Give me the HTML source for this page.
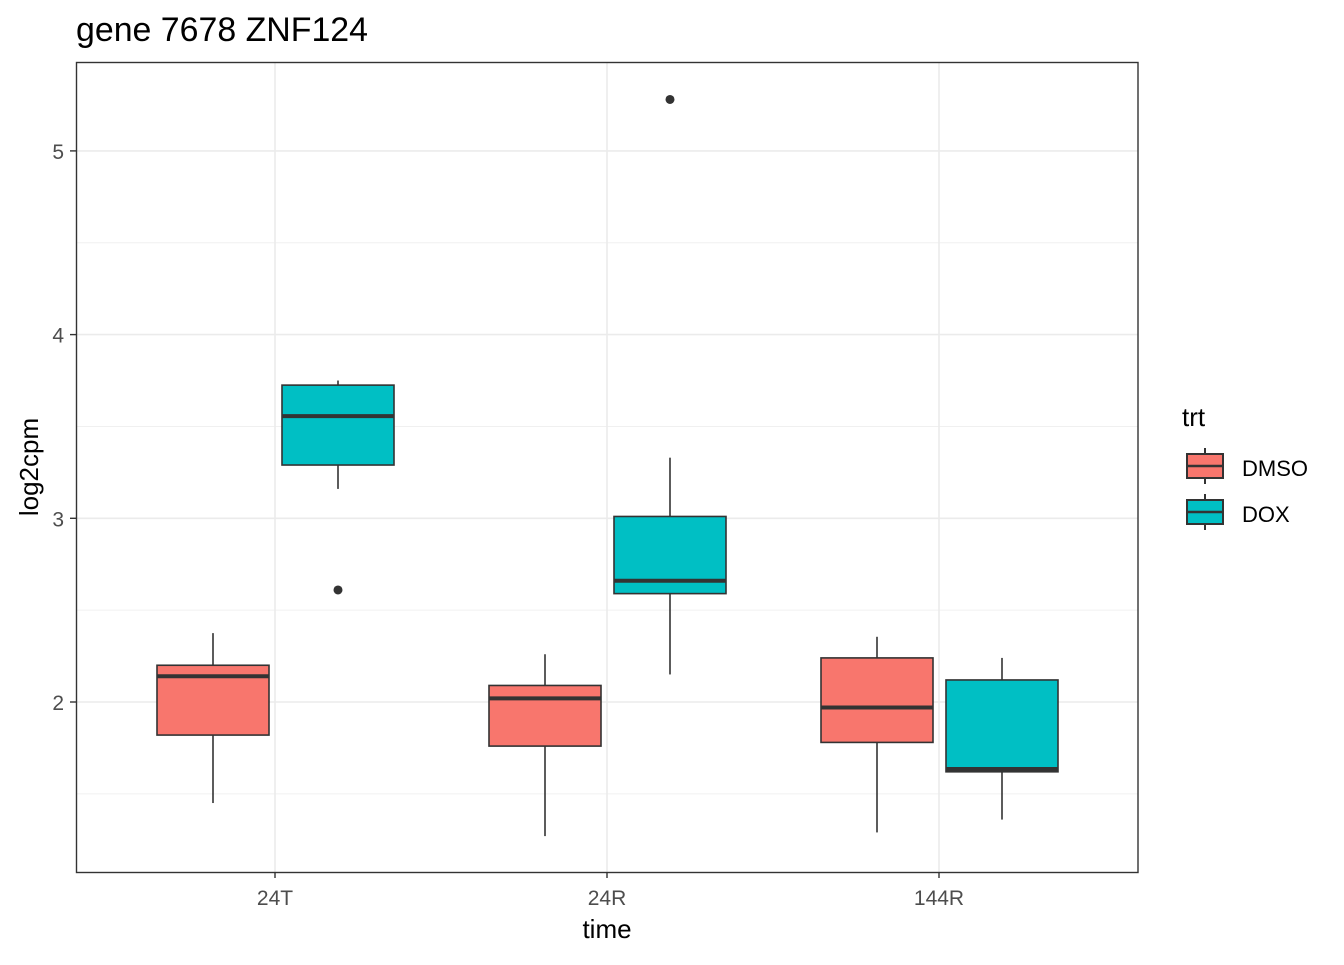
<!DOCTYPE html>
<html><head><meta charset="utf-8"><style>
body{margin:0;background:#fff;font-family:"Liberation Sans",sans-serif;}
</style></head><body>
<svg id="chart" width="1344" height="960" xmlns="http://www.w3.org/2000/svg" font-family="Liberation Sans, sans-serif">
<text x="76" y="41" font-size="34" textLength="292" lengthAdjust="spacingAndGlyphs" fill="#000">gene 7678 ZNF124</text>
<g id="grid"></g>
<g id="boxes"></g>
<rect x="76.5" y="62.5" width="1061.5" height="810" fill="none" stroke="#333" stroke-width="1.4"/>
<g id="axes"></g>
<text x="607" y="938" font-size="26" text-anchor="middle">time</text>
<text transform="translate(38,467) rotate(-90)" font-size="26" text-anchor="middle">log2cpm</text>
<g>
<text x="1182" y="426" font-size="26">trt</text>
<g>
<line x1="1205" y1="448" x2="1205" y2="484" stroke="#333" stroke-width="2"/>
<rect x="1187" y="454" width="36" height="24" fill="#F8766D" stroke="#333" stroke-width="2"/>
<line x1="1187" y1="466" x2="1223" y2="466" stroke="#333" stroke-width="2.5"/>
<text x="1242" y="476" font-size="22">DMSO</text></g>
<g>
<line x1="1205" y1="494" x2="1205" y2="530" stroke="#333" stroke-width="2"/>
<rect x="1187" y="500" width="36" height="24" fill="#00BFC4" stroke="#333" stroke-width="2"/>
<line x1="1187" y1="512" x2="1223" y2="512" stroke="#333" stroke-width="2.5"/>
<text x="1242" y="522" font-size="22">DOX</text></g>
</g>
</svg>
<script>
const categories=["24T","24R","144R"];
const groups=["DMSO","DOX"];
const lowerWhisker=[[1.45,3.16],[1.27,2.15],[1.29,1.36]];
const q1=[[1.82,3.29],[1.76,2.59],[1.78,1.62]];
const median=[[2.14,3.556],[2.02,2.66],[1.97,1.635]];
const q3=[[2.20,3.725],[2.09,3.01],[2.24,2.12]];
const upperWhisker=[[2.375,3.75],[2.26,3.33],[2.355,2.24]];
const outliers=[[[],[2.61]],[[],[5.28]],[[],[]]];
const yTicks=[2,3,4,5];
const yMinor=[1.5,2.5,3.5,4.5];
const colors=["#F8766D","#00BFC4"];
const NS="http://www.w3.org/2000/svg";
const y=v=>702-(v-2)*183.7;
const x=i=>275+i*332;
function mk(t,a,p){const e=document.createElementNS(NS,t);for(const k in a)e.setAttribute(k,a[k]);p.appendChild(e);return e;}
const grid=document.getElementById('grid'),boxes=document.getElementById('boxes'),axes=document.getElementById('axes');
yMinor.forEach(v=>{const l=mk('line',{x1:77,x2:1138,y1:y(v),y2:y(v),stroke:'#f0f0f0','stroke-width':1},grid);

});
yTicks.forEach(v=>{const l=mk('line',{x1:77,x2:1138,y1:y(v),y2:y(v),stroke:'#ebebeb','stroke-width':1.6},grid);


const t=mk('line',{x1:70,x2:76,y1:y(v),y2:y(v),stroke:'#333','stroke-width':1.4},axes);


const tx=mk('text',{x:64,y:y(v)+8,'font-size':21,'text-anchor':'end',fill:'#4d4d4d'},axes);tx.textContent=v;

});
categories.forEach((c,i)=>{const l=mk('line',{x1:x(i),x2:x(i),y1:63,y2:872,stroke:'#ebebeb','stroke-width':1.6},grid);


const t=mk('line',{x1:x(i),x2:x(i),y1:872,y2:878,stroke:'#333','stroke-width':1.4},axes);


const tx=mk('text',{x:x(i),y:905,'font-size':21,'text-anchor':'middle',fill:'#4d4d4d'},axes);tx.textContent=c;


groups.forEach((g,j)=>{const cx=x(i)+(j?63:-62),hw=56;
const gg=mk('g',{},boxes);


mk('line',{x1:cx,x2:cx,y1:y(upperWhisker[i][j]),y2:y(q3[i][j]),stroke:'#333','stroke-width':1.6},gg);
mk('line',{x1:cx,x2:cx,y1:y(q1[i][j]),y2:y(lowerWhisker[i][j]),stroke:'#333','stroke-width':1.6},gg);
mk('rect',{x:cx-hw,y:y(q3[i][j]),width:2*hw,height:y(q1[i][j])-y(q3[i][j]),fill:colors[j],stroke:'#333','stroke-width':1.6},gg);
mk('line',{x1:cx-hw,x2:cx+hw,y1:y(median[i][j]),y2:y(median[i][j]),stroke:'#333','stroke-width':4},gg);
outliers[i][j].forEach(o=>{const p=mk('circle',{cx:cx,cy:y(o),r:4.5,fill:'#333'},gg);

});
});});
</script>
</body></html>
